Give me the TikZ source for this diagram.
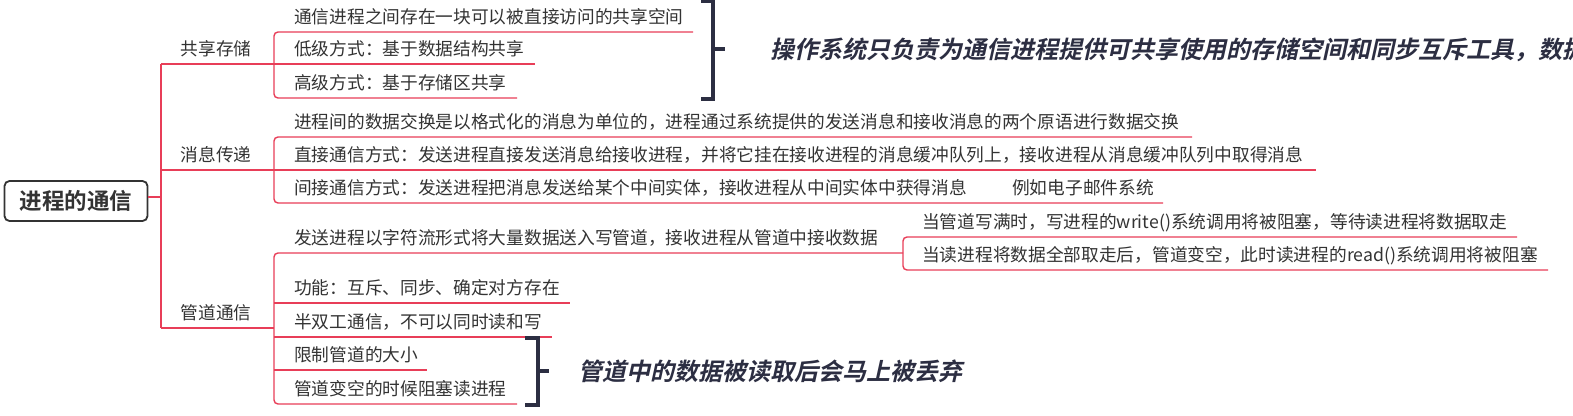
\documentclass[tikz,border=0pt]{standalone}
\usepackage{fontspec}
\newfontfamily\cjk{Noto Sans CJK SC}
\newfontfamily\cjkbold{Noto Sans CJK SC Bold}
\newfontfamily\cjkbi{Noto Sans CJK SC Bold}[FakeSlant=0.22]
\definecolor{textgray}{RGB}{51,51,51}
\definecolor{linered}{RGB}{232,62,88}
\definecolor{navy}{RGB}{44,46,66}
\tikzset{
  txt/.style={anchor=base west, inner sep=0pt, font=\cjk\fontsize{17.7}{20}\selectfont, text=textgray},
  rline/.style={draw=linered, line width=1.4pt},
  nbracket/.style={draw=navy, line width=3.3pt, line join=miter},
  note/.style={anchor=base west, inner sep=0pt, font=\cjkbi\fontsize{24}{27}\selectfont, text=navy},
  rootbox/.style={draw=textgray, line width=1.8pt, rounded corners=5pt, minimum width=143pt, minimum height=40pt, inner sep=0pt,
    font=\cjkbold\fontsize{22.5}{25}\selectfont, text=textgray, text height=18.7pt, text depth=1.6pt}
}
\begin{document}
\begin{tikzpicture}[x=1pt,y=-1pt]
\useasboundingbox (0,0) rectangle (1573,415);
\fill[white] (0,0) rectangle (1573,415);

% root
\node[rootbox] (root) at (76,201) {进程的通信};
\coordinate (j0) at (161,197);
\coordinate (jtop) at (161,64);
\coordinate (jmid) at (161,170);
\coordinate (jbot) at (161,328);
\draw[rline] (root.east |- j0) -- (j0);
\draw[rline] (jtop) -- (jbot);

% group 1
\node[txt] (g1) at (180.5,55.5) {共享存储};
\node[txt] (g1c1) at (294,23.5) {通信进程之间存在一块可以被直接访问的共享空间};
\node[txt] (g1c2) at (294,55.5) {低级方式：基于数据结构共享};
\node[txt] (g1c3) at (294,89.5) {高级方式：基于存储区共享};
\draw[rline] (jtop) -- (535,64);
\draw[rline, rounded corners=4pt] (693,32) -- (274,32) -- (274,98) -- (517,98);
\draw[nbracket] (701,1.7) -- (713,1.7) -- (713,99) -- (701,99);
\draw[nbracket] (713,49) -- (725,49);
\node[note] (n1) at (770,58.9) {操作系统只负责为通信进程提供可共享使用的存储空间和同步互斥工具，数据};

% group 2
\node[txt] (g2) at (180.5,161.5) {消息传递};
\node[txt] (g2c1) at (294,128.5) {进程间的数据交换是以格式化的消息为单位的，进程通过系统提供的发送消息和接收消息的两个原语进行数据交换};
\node[txt] (g2c2) at (294,161.5) {直接通信方式：发送进程直接发送消息给接收进程，并将它挂在接收进程的消息缓冲队列上，接收进程从消息缓冲队列中取得消息};
\node[txt] (g2c3) at (294,194.5) {间接通信方式：发送进程把消息发送给某个中间实体，接收进程从中间实体中获得消息};
\node[txt] (g2c3a) at (1012,194.5) {例如电子邮件系统};
\draw[rline] (jmid) -- (1316,170);
\draw[rline, rounded corners=4pt] (1192,137) -- (274,137) -- (274,203) -- (1163,203);

% group 3
\node[txt] (g3) at (180.5,319.5) {管道通信};
\node[txt] (g3c1) at (294,244.5) {发送进程以字符流形式将大量数据送入写管道，接收进程从管道中接收数据};
\node[txt] (g3s1) at (922,228.5) {当管道写满时，写进程的write()系统调用将被阻塞，等待读进程将数据取走};
\node[txt] (g3s2) at (922,261.5) {当读进程将数据全部取走后，管道变空，此时读进程的read()系统调用将被阻塞};
\node[txt] (g3c2) at (294,294.5) {功能：互斥、同步、确定对方存在};
\node[txt] (g3c3) at (294,328.5) {半双工通信，不可以同时读和写};
\node[txt] (g3c4) at (294,361.5) {限制管道的大小};
\node[txt] (g3c5) at (294,395.5) {管道变空的时候阻塞读进程};
\draw[rline] (jbot) -- (274,328);
\draw[rline, rounded corners=4pt] (903,253) -- (274,253) -- (274,404) -- (517,404);
\draw[rline, rounded corners=4pt] (1517,237) -- (903,237) -- (903,270) -- (1548,270);
\draw[rline] (274,303) -- (570,303);
\draw[rline] (274,337) -- (552,337);
\draw[rline] (274,370) -- (427,370);
\draw[nbracket] (525,338) -- (538,338) -- (538,405) -- (525,405);
\draw[nbracket] (538,371) -- (549,371);
\node[note] (n2) at (578,380.9) {管道中的数据被读取后会马上被丢弃};
\end{tikzpicture}
\end{document}
